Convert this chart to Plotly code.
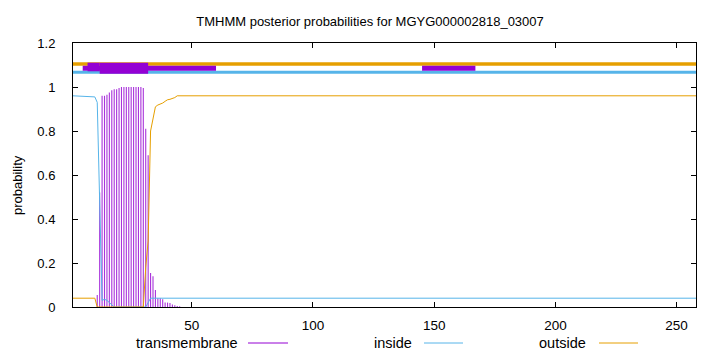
import plotly.graph_objects as go

# ---------------- data ----------------
title_text = "TMHMM posterior probabilities for MGYG000002818_03007"
seq_len = 258

# transmembrane posterior (impulses), residues with visible value
tm_x = list(range(11, 46))
tm_y = [0.055, 0.52, 0.96, 0.96, 0.965, 0.975, 0.985, 0.99, 0.99, 0.995,
        1.0, 1.0, 1.0, 1.0, 1.0, 1.0, 1.0, 1.0, 1.0, 0.995,
        0.81, 0.69, 0.155, 0.14, 0.077, 0.04, 0.04, 0.035, 0.021, 0.02,
        0.018, 0.011, 0.008, 0.005, 0.003]

# inside posterior (line breakpoints)
in_x = [1, 10, 11, 12, 13, 14, 15, 16, 17, 18, 30, 31, 32, 33, 258]
in_y = [0.96, 0.955, 0.93, 0.45, 0.03, 0.035, 0.03, 0.02, 0.01, 0.0, 0.0, 0.0, 0.02, 0.04, 0.04]

# outside posterior (line breakpoints)
out_x = [1, 10, 11, 30, 31, 32, 33, 34, 35, 36, 37, 38, 39, 40, 41, 42, 43, 44, 258]
out_y = [0.04, 0.04, 0.0, 0.0, 0.18, 0.30, 0.80, 0.86, 0.91, 0.918, 0.922, 0.927,
         0.935, 0.942, 0.944, 0.947, 0.952, 0.96, 0.96]

# predicted topology strips at the top
outside_strip = (1, 258)
inside_strip = (1, 258)
tm_thin_segments = [(5, 60), (145, 167)]
tm_box_a = (7, 12)
tm_box_b = (12, 32)

x_ticks = [50, 100, 150, 200, 250]
y_ticks = [0, 0.2, 0.4, 0.6, 0.8, 1.0, 1.2]
y_tick_labels = ["0", "0.2", "0.4", "0.6", "0.8", "1", "1.2"]

legend_names = ["transmembrane", "inside", "outside"]

# ---------------- styles ----------------
C_TM = "#9400d3"
C_IN = "#56b4e9"
C_OUT = "#e69f00"
FONT = "Liberation Sans, Arial, Helvetica, sans-serif"

fig = go.Figure()

# impulses: vertical segments from 0 to value
imp_x, imp_y = [], []
for xv, yv in zip(tm_x, tm_y):
    imp_x += [xv, xv, None]
    imp_y += [0, yv, None]
fig.add_trace(go.Scatter(x=imp_x, y=imp_y, mode="lines", line=dict(color=C_TM, width=1.1),
                         opacity=0.8, name=legend_names[0], showlegend=False, connectgaps=False))
fig.add_trace(go.Scatter(x=in_x, y=in_y, mode="lines", line=dict(color=C_IN, width=1),
                         name=legend_names[1], showlegend=False))
fig.add_trace(go.Scatter(x=out_x, y=out_y, mode="lines", line=dict(color=C_OUT, width=1),
                         name=legend_names[2], showlegend=False))

shapes = []
# outside strip
shapes.append(dict(type="rect", xref="x", yref="y", x0=outside_strip[0], x1=outside_strip[1],
                   y0=1.0968, y1=1.1123, fillcolor=C_OUT, line=dict(width=0), layer="above"))
# inside strip
shapes.append(dict(type="rect", xref="x", yref="y", x0=inside_strip[0], x1=inside_strip[1],
                   y0=1.0605, y1=1.0741, fillcolor=C_IN, line=dict(width=0), layer="above"))
for a, b in tm_thin_segments:
    shapes.append(dict(type="rect", xref="x", yref="y", x0=a, x1=b, y0=1.0741, y1=1.0968,
                       fillcolor=C_TM, line=dict(width=0), layer="above"))
shapes.append(dict(type="rect", xref="x", yref="y", x0=tm_box_a[0], x1=tm_box_a[1],
                   y0=1.0714, y1=1.1105, fillcolor=C_TM, line=dict(width=0), layer="above"))
shapes.append(dict(type="rect", xref="x", yref="y", x0=tm_box_b[0], x1=tm_box_b[1],
                   y0=1.0605, y1=1.1105, fillcolor=C_TM, line=dict(width=0), layer="above"))

# legend (gnuplot style: text then sample line), positions in paper coords
L, R, T, B = 73, 696, 43, 307
W, H = R - L, B - T
def px(xp):
    return (xp - L) / W
def py(yp):
    return (B - yp) / H

leg_y = py(343)
leg_items = [(240, 248, 288, C_TM), (414, 424, 463, C_IN), (588, 599, 638, C_OUT)]
annotations = []
for name, (tx, l0, l1, col) in zip(legend_names, leg_items):
    annotations.append(dict(text=name, x=px(tx), y=leg_y, xref="paper", yref="paper",
                            xanchor="right", yanchor="middle", showarrow=False,
                            font=dict(family=FONT, size=14.5, color="#000")))
    shapes.append(dict(type="line", xref="paper", yref="paper", x0=px(l0), x1=px(l1),
                       y0=leg_y, y1=leg_y, line=dict(color=col, width=1)))

annotations.append(dict(text="probability", x=px(17), y=py(185), xref="paper", yref="paper",
                        textangle=-90, xanchor="center", yanchor="middle", showarrow=False,
                        font=dict(family=FONT, size=13, color="#000")))

fig.update_layout(
    width=720, height=352,
    margin=dict(l=L, r=720 - R, t=T, b=352 - B, pad=0),
    paper_bgcolor="white", plot_bgcolor="white",
    font=dict(family=FONT, size=13, color="#000"),
    title=dict(text=title_text, x=370 / 720, xanchor="center", xref="container",
               y=1 - 21 / 352, yanchor="middle", font=dict(family=FONT, size=13, color="#000")),
    shapes=shapes, annotations=annotations,
    showlegend=False,
)
fig.update_xaxes(range=[1, seq_len], tickvals=x_ticks, ticks="inside", ticklen=5,
                 tickcolor="#000", showline=True, linecolor="#000", linewidth=1, mirror="ticks",
                 showgrid=False, zeroline=False, ticklabelstandoff=6,
                 tickfont=dict(family=FONT, size=13.5, color="#000"))
fig.update_yaxes(range=[0, 1.2], tickvals=y_ticks, ticktext=y_tick_labels, ticks="inside", ticklen=5,
                 tickcolor="#000", showline=True, linecolor="#000", linewidth=1, mirror="ticks",
                 showgrid=False, zeroline=False, ticklabelstandoff=14,
                 tickfont=dict(family=FONT, size=13, color="#000"))

fig.write_html("out.html")
